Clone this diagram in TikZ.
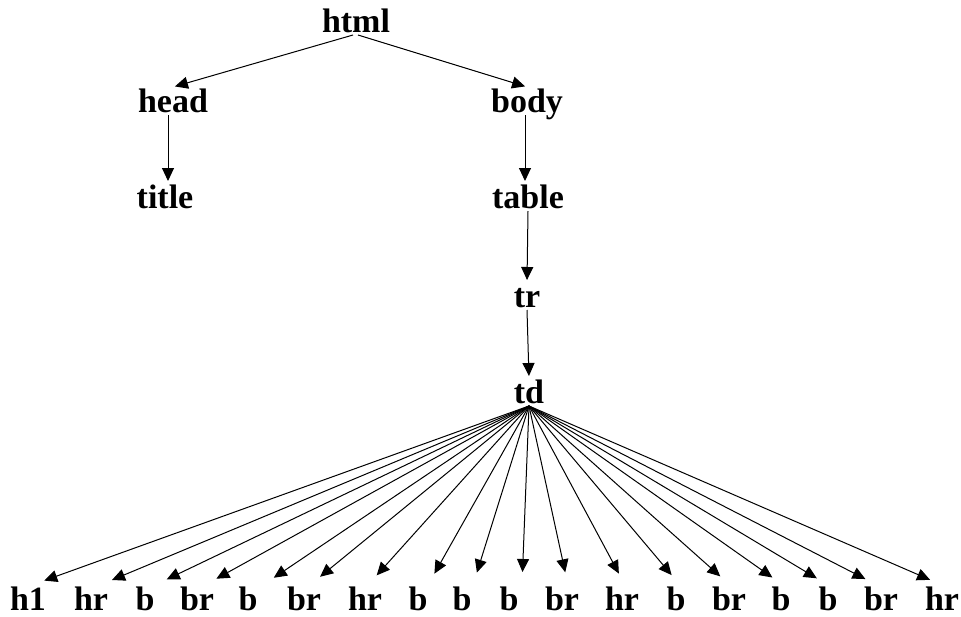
\documentclass[tikz,border=0pt]{standalone}
\usepackage{fontspec}
\setmainfont{Liberation Serif}
\usetikzlibrary{arrows.meta}

\begin{document}
\begin{tikzpicture}[x=1pt,y=-1pt,
	tag/.style={anchor=base, inner sep=0pt, outer ysep=3pt, text height=22pt, text depth=0pt,
		font=\fontsize{34}{40}\selectfont\bfseries},
	link/.style={line width=1pt, -{Triangle[length=13pt,width=12pt]}, shorten >=2pt}]

	%Fixing the frame
	\useasboundingbox (0,0) rectangle (961,616);

	%Upper part of the tree
	\node [tag] (html) at (356,32) {html};
	\node [tag] (head) at (173,112) {head};
	\node [tag] (body) at (527,112) {body};
	\node [tag] (title) at (165,208) {title};
	\node [tag] (table) at (528,208) {table};
	\node [tag] (tr) at (527,307) {tr};
	\node [tag] (td) at (529,403) {td};

	\draw [link] ([xshift=-3pt]html.south) -- (head.north);
	\draw [link] ([xshift=2pt]html.south) -- (body.north);
	\draw [link] ([xshift=-5pt]head.south) -- ([xshift=3pt]title.north);
	\draw [link] ([xshift=-2pt]body.south) -- ([xshift=-3pt]table.north);
	\draw [link] (table.south) -- (tr.north);
	\draw [link] (tr.south) -- (td.north);

	%Leaves under td
	\foreach \lab/\xx/\dx [count=\i] in {h1/28/4, hr/91/9, b/145/10, br/197/8, b/248/15, br/304/6,
		hr/365/3, b/418/10, b/462/11, b/509/13, br/562/6, hr/622/3, b/676/4, br/729/1,
		b/781/2, b/828/0, br/881/-4, hr/942/0}
	{
		\node [tag] (leaf\i) at (\xx,610) {\lab};
		\draw [link, shorten >=13pt] (td.south) -- ([xshift=\dx pt]leaf\i.north);
	}

\end{tikzpicture}
\end{document}
